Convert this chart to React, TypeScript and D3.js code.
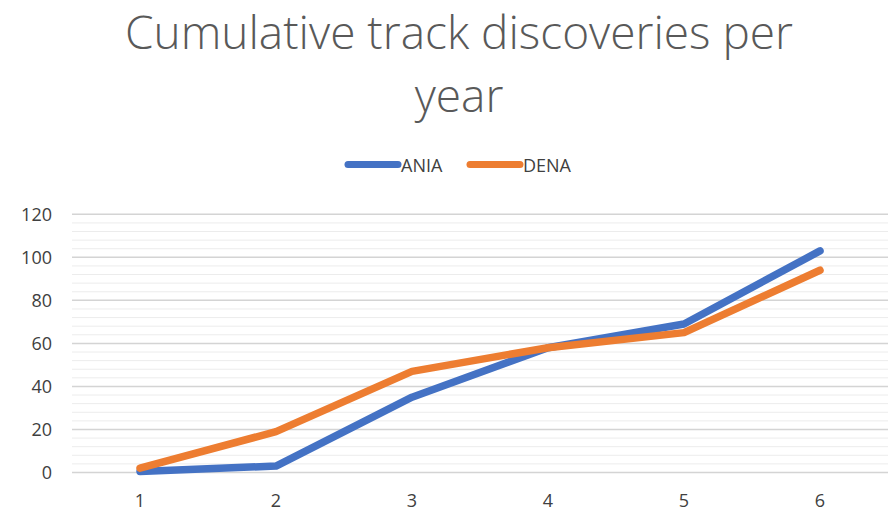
import { useRef, useEffect } from 'react';
import * as d3 from 'd3';

const years = ['1', '2', '3', '4', '5', '6'];
const ania = [0.5, 3, 35, 58, 69, 103];
const dena = [2, 19, 47, 58, 65, 94];
const yTicks = [0, 20, 40, 60, 80, 100, 120];
const minorTicks = d3.range(0, 121, 4);

const SERIES = [
  { name: 'ANIA', values: ania, color: '#4472C4' },
  { name: 'DENA', values: dena, color: '#ED7D31' },
];

export default function App() {
  const svgRef = useRef<SVGSVGElement>(null);

  useEffect(() => {
    const svg = d3.select(svgRef.current);
    svg.selectAll('*').remove();

    const W = 892, H = 510;
    const margin = { top: 214.3, right: 4, bottom: 37.5, left: 72 };
    const w = W - margin.left - margin.right;
    const h = H - margin.top - margin.bottom;
    const font = 'Open Sans, sans-serif';

    svg.append('rect').attr('width', W).attr('height', H).attr('fill', '#fff');

    // Title, two lines
    const title = svg.append('text')
      .attr('text-anchor', 'middle')
      .attr('fill', '#595959')
      .style('font-family', font)
      .style('font-weight', 300)
      .style('font-size', '46px');
    title.append('tspan').attr('x', 459).attr('y', 49).text('Cumulative track discoveries per');
    title.append('tspan').attr('x', 459).attr('y', 112).text('year');

    // Legend
    const legendItems = [
      { ...SERIES[0], x: 345 },
      { ...SERIES[1], x: 467 },
    ];
    legendItems.forEach(s => {
      svg.append('line')
        .attr('x1', s.x + 3).attr('x2', s.x + 53)
        .attr('y1', 164.5).attr('y2', 164.5)
        .attr('stroke', s.color).attr('stroke-width', 7).attr('stroke-linecap', 'round');
      svg.append('text')
        .attr('x', s.x + 56).attr('y', 171.5)
        .attr('fill', '#404040')
        .style('font-family', font).style('font-size', '18px')
        .text(s.name);
    });

    const g = svg.append('g').attr('transform', `translate(${margin.left},${margin.top})`);

    const xScale = d3.scalePoint().domain(years).range([0, w]).padding(0.5);
    const yScale = d3.scaleLinear().domain([0, 120]).range([h, 0]);

    // Minor grid
    g.selectAll('line.minor')
      .data(minorTicks.filter(t => t % 20 !== 0))
      .join('line')
      .attr('class', 'minor')
      .attr('x1', 0).attr('x2', w)
      .attr('y1', d => yScale(d)).attr('y2', d => yScale(d))
      .attr('stroke', '#ececec').attr('stroke-width', 1);

    // Major grid
    g.selectAll('line.major')
      .data(yTicks)
      .join('line')
      .attr('class', 'major')
      .attr('x1', 0).attr('x2', w)
      .attr('y1', d => yScale(d)).attr('y2', d => yScale(d))
      .attr('stroke', '#d4d4d4').attr('stroke-width', 1.5);

    // Y labels
    g.selectAll('text.ylab')
      .data(yTicks)
      .join('text')
      .attr('class', 'ylab')
      .attr('x', -20).attr('y', d => yScale(d) + 6.5)
      .attr('text-anchor', 'end')
      .attr('fill', '#404040')
      .style('font-family', font).style('font-size', '18px')
      .text(d => d);

    // X labels
    g.selectAll('text.xlab')
      .data(years)
      .join('text')
      .attr('class', 'xlab')
      .attr('x', d => xScale(d)!).attr('y', h + 34.5)
      .attr('text-anchor', 'middle')
      .attr('fill', '#404040')
      .style('font-family', font).style('font-size', '18px')
      .text(d => d);

    const line = d3.line<number>()
      .x((_, i) => xScale(years[i])!)
      .y(v => yScale(v));

    SERIES.forEach(s => {
      g.append('path')
        .datum(s.values)
        .attr('d', line)
        .attr('fill', 'none')
        .attr('stroke', s.color)
        .attr('stroke-width', 7.5)
        .attr('stroke-linecap', 'round')
        .attr('stroke-linejoin', 'round');
    });
  }, []);

  return (
    <svg ref={svgRef} width={892} height={510}
      style={{ display: 'block', position: 'absolute', left: 0, top: 0 }} />
  );
}
